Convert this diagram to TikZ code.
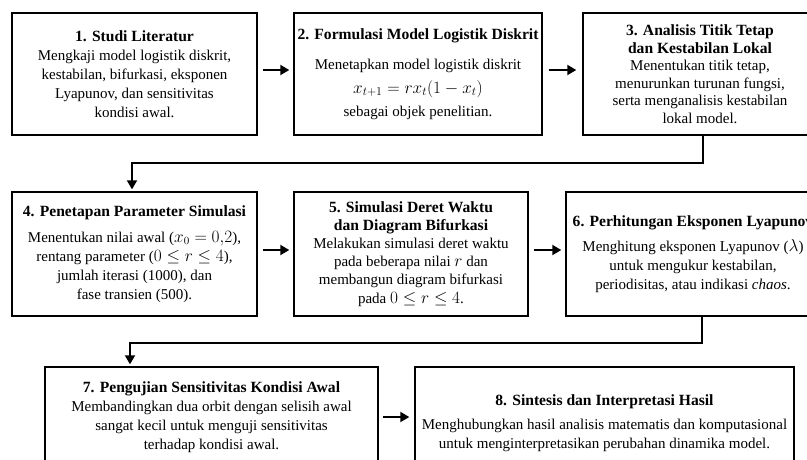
\documentclass[tikz,border=0pt]{standalone}
\usepackage{fontspec}
\setmainfont{Liberation Serif}
\usetikzlibrary{arrows.meta}
\newcommand\ttl[1]{{\bfseries\fontsize{15.6}{19}\selectfont #1}}
\newcommand\mm[1]{{\fontsize{16}{19}\selectfont$#1$}}
\begin{document}
\begin{tikzpicture}[x=1pt,y=-1pt,
  box/.style={draw=black,line width=1.4pt,fill=white,align=center,inner sep=0pt,
    font=\fontsize{15}{19}\selectfont},
  arr/.style={line width=1.9pt,-{Triangle[length=9pt,width=10pt]}}]
\clip (0,0) rectangle (807,459);
\fill[white] (0,0) rectangle (807,459);

\node[box,minimum width=245pt,minimum height=122pt] (b1) at (134.5,74)
 {\ttl{1. Studi Literatur}\\ Mengkaji model logistik diskrit,\\ kestabilan, bifurkasi, eksponen\\ Lyapunov, dan sensitivitas\\ kondisi awal.};
\node[box,minimum width=248pt,minimum height=122pt] (b2) at (418,74)
 {\ttl{2. Formulasi Model Logistik Diskrit}\\[11pt] Menetapkan model logistik diskrit\\[5pt] {\fontsize{16.5}{19}\selectfont$x_{t+1}=rx_t(1-x_t)$}\\[4pt] sebagai objek penelitian.};
\node[box,minimum width=234pt,minimum height=122pt] (b3) at (700,74)
 {\ttl{3. Analisis Titik Tetap}\\[-1.5pt] \ttl{dan Kestabilan Lokal}\\[-1.5pt] Menentukan titik tetap,\\[-1.5pt] menurunkan turunan fungsi,\\[-1.5pt] serta menganalisis kestabilan\\[-1.5pt] lokal model.};

\node[box,minimum width=245pt,minimum height=124pt] (b4) at (134.5,254)
 {\ttl{4. Penetapan Parameter Simulasi}\\[7pt] Menentukan nilai awal (\mm{x_0=0{,}2}),\\ rentang parameter (\mm{0\le r\le 4}),\\ jumlah iterasi (1000), dan\\ fase transien (500).};
\node[box,minimum width=234pt,minimum height=124pt] (b5) at (411,254)
 {\ttl{5. Simulasi Deret Waktu}\\[-1pt] \ttl{dan Diagram Bifurkasi}\\[-1pt] Melakukan simulasi deret waktu\\[-1pt] pada beberapa nilai \mm{r} dan\\[-1pt] membangun diagram bifurkasi\\[0.5pt] pada \mm{0\le r\le 4}.};
\node[box,minimum width=254pt,minimum height=124pt] (b6) at (693,254)
 {\ttl{6. Perhitungan Eksponen Lyapunov}\\[6pt] Menghitung eksponen Lyapunov (\mm{\lambda})\\ untuk mengukur kestabilan,\\ periodisitas, atau indikasi \textit{chaos}.};

\node[box,minimum width=333pt,minimum height=100pt] (b7) at (211.5,417)
 {\ttl{7. Pengujian Sensitivitas Kondisi Awal}\\ Membandingkan dua orbit dengan selisih awal\\ sangat kecil untuk menguji sensitivitas\\ terhadap kondisi awal.};
\node[box,minimum width=379pt,minimum height=112pt] (b8) at (604.5,423)
 {\ttl{8. Sintesis dan Interpretasi Hasil}\\[5pt] Menghubungkan hasil analisis matematis dan komputasional\\ untuk menginterpretasikan perubahan dinamika model.};

\draw[arr] ([xshift=5pt,yshift=4pt]b1.east) -- ([xshift=-4pt,yshift=4pt]b2.west);
\draw[arr] ([xshift=6pt,yshift=4pt]b2.east) -- ([xshift=-6pt,yshift=4pt]b3.west);
\draw[arr] ([xshift=5pt,yshift=4pt]b4.east) -- ([xshift=-4pt,yshift=4pt]b5.west);
\draw[arr] ([xshift=5pt,yshift=4pt]b5.east) -- ([xshift=-4pt,yshift=4pt]b6.west);
\draw[arr] ([xshift=4pt]b7.east) -- ([xshift=-5pt]b8.west |- b7.east);

\coordinate (j1a) at (703,163);
\coordinate (j1b) at (132,163);
\draw[arr,shorten >=2pt] (j1a |- b3.south) -- (j1a) -- (j1b) -- (j1b |- b4.north);
\coordinate (j2a) at (702,343);
\coordinate (j2b) at (130,343);
\draw[arr,shorten >=2pt] (j2a |- b6.south) -- (j2a) -- (j2b) -- (j2b |- b7.north);
\end{tikzpicture}
\end{document}
